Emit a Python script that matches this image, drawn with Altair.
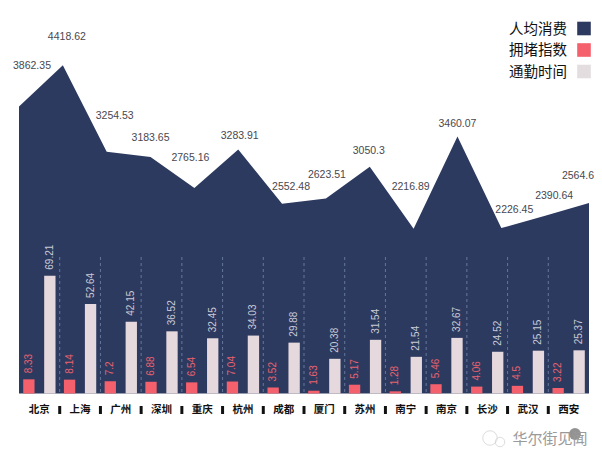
import altair as alt
import pandas as pd

cities = ["北京", "上海", "广州", "深圳", "重庆", "杭州", "成都", "厦门", "苏州", "南宁", "南京", "长沙", "武汉", "西安"]
spending = [3862.35, 4418.62, 3254.53, 3183.65, 2765.16, 3283.91, 2552.48, 2623.51, 3050.3, 2216.89, 3460.07, 2226.45, 2390.64, 2564.6]
congestion = [8.33, 8.14, 7.2, 6.88, 6.54, 7.04, 3.52, 1.63, 5.17, 1.28, 5.46, 4.06, 4.5, 3.22]
commute = [69.21, 52.64, 42.15, 36.52, 32.45, 34.03, 29.88, 20.38, 31.54, 21.54, 32.67, 24.52, 25.15, 25.37]
legend_names = ["人均消费", "拥堵指数", "通勤时间"]
watermark = "华尔街见闻"

NAVY, PINK, LIGHT = "#2d3a60", "#f4606c", "#e6d9dd"
LATIN = "Liberation Sans"
CJK = "Noto Sans CJK SC"
W, H = 570, 383.5
label_nudges = [(13, -40), (4, -28), (8, -36), (0, -19), (-4, -30), (1.5, -13.5), (9, -17),
                (1, -24), (-1, -16), (-3, -42), (0, -12), (13, -18), (9, -20), (-11, -27)]

area_df = pd.DataFrame({"i": range(len(cities)), "v": spending, "t": [str(v) for v in spending]})
bars_df = pd.DataFrame({
    "c": cities * 2,
    "s": ["拥堵指数"] * len(cities) + ["通勤时间"] * len(cities),
    "v": congestion + commute,
    "t": [str(v) for v in congestion + commute],
})
sep_df = pd.DataFrame({"k": list(range(1, len(cities)))})

area_x = alt.X("i:Q", axis=None, scale=alt.Scale(domain=[0, len(cities) - 1], nice=False, zero=False))
area_y = alt.Y("v:Q", axis=None, scale=alt.Scale(domain=[0, 5161], nice=False))
sep_x = alt.X("k:Q", axis=None, scale=alt.Scale(domain=[0, len(cities)], nice=False))
bar_y = alt.Y("v:Q", axis=None, scale=alt.Scale(domain=[0, 225.3], nice=False))
offset = alt.XOffset("s:N", sort=legend_names[1:], scale=alt.Scale(paddingInner=0.46, paddingOuter=0.2))


def band_x(axis=None):
    return alt.X("c:N", sort=cities, axis=axis, scale=alt.Scale(paddingInner=0, paddingOuter=0))


layers = [alt.Chart(area_df).mark_area(color=NAVY, interpolate="linear").encode(x=area_x, y=area_y)]

for row, (dx, dy) in zip(area_df.to_dict("records"), label_nudges):
    layers.append(
        alt.Chart(pd.DataFrame([row]))
        .mark_text(font=LATIN, fontSize=10.5, color="#48484f", dx=dx, dy=dy, align="center", baseline="middle")
        .encode(x=area_x, y=area_y, text="t:N")
    )

layers.append(
    alt.Chart(sep_df)
    .mark_rule(color="#65769c", strokeWidth=1, strokeDash=[3, 3])
    .encode(x=sep_x, y=alt.value(247), y2=alt.value(H))
)
layers.append(
    alt.Chart(sep_df)
    .mark_rule(color="#111111", strokeWidth=3)
    .encode(x=sep_x, y=alt.value(H + 12.5), y2=alt.value(H + 20.5))
)

layers.append(
    alt.Chart(bars_df)
    .mark_bar()
    .encode(
        x=band_x(alt.Axis(title=None, orient="bottom", domain=False, ticks=False, labelAngle=0, labelFont=CJK,
                          labelFontSize=10.5, labelFontWeight="bold", labelColor="#111111", labelPadding=11)),
        xOffset=offset,
        y=bar_y,
        color=alt.Color("s:N", legend=None, scale=alt.Scale(domain=legend_names[1:], range=[PINK, LIGHT])),
    )
)
layers.append(
    alt.Chart(bars_df)
    .mark_text(font=LATIN, fontSize=10, angle=270, align="left", baseline="middle", dx=6)
    .encode(
        x=band_x(),
        xOffset=offset,
        y=bar_y,
        text="t:N",
        color=alt.Color("s:N", legend=None, scale=alt.Scale(domain=legend_names[1:], range=["#e9626e", "#c9cad6"])),
    )
)

legend_df = pd.DataFrame({"n": legend_names})
legend_y = alt.Y("n:N", sort=legend_names, axis=None, scale=alt.Scale(type="point", padding=0, domain=legend_names, range=[18.5, 61.5]))
layers.append(
    alt.Chart(legend_df)
    .mark_text(font=CJK, fontSize=14.5, color="#111111", align="right", baseline="middle", dy=1)
    .encode(x=alt.value(548), y=legend_y, text="n:N")
)
layers.append(
    alt.Chart(legend_df)
    .mark_square(size=185, opacity=1, filled=True)
    .encode(
        x=alt.value(565),
        y=legend_y,
        color=alt.Color("n:N", legend=None, scale=alt.Scale(domain=legend_names, range=[NAVY, "#f4606c", "#e3dde0"])),
    )
)

# watermark: faint logo outlines, dark badge, then the text
mark_df = pd.DataFrame({"t": [watermark]})
layers.append(
    alt.Chart(mark_df).mark_point(shape="circle", filled=False, color="#cfcfcf", size=210, strokeWidth=1)
    .encode(x=alt.value(471), y=alt.value(428))
)
layers.append(
    alt.Chart(mark_df).mark_point(shape="circle", filled=False, color="#cfcfcf", size=90, strokeWidth=1)
    .encode(x=alt.value(481), y=alt.value(432))
)
layers.append(
    alt.Chart(mark_df).mark_point(shape="circle", filled=True, color="#6f6f6f", opacity=0.75, size=140)
    .encode(x=alt.value(556), y=alt.value(424))
)
layers.append(
    alt.Chart(mark_df)
    .mark_text(font=CJK, fontSize=15, color="#9a9a9a", align="center", baseline="middle")
    .encode(x=alt.value(531), y=alt.value(429), text="t:N")
)

chart = (
    alt.layer(*layers)
    .resolve_scale(x="independent", y="independent", color="independent")
    .properties(
        width=W,
        height=H,
        padding={"left": 11, "top": 2, "right": 5, "bottom": 54},
        autosize=alt.AutoSizeParams(type="none"),
        background="white",
    )
    .configure_view(stroke=None)
)

chart.save("out.html", embed_options={"renderer": "svg", "actions": False})
